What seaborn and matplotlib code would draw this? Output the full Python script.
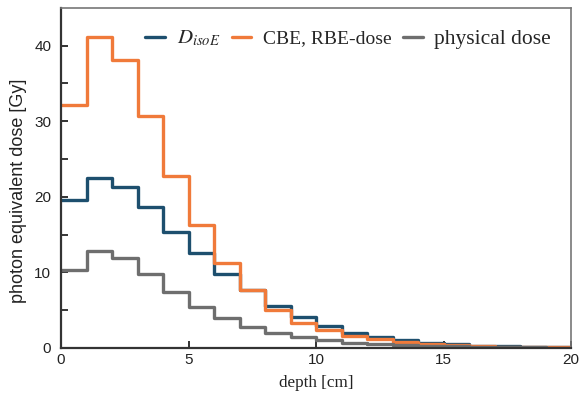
import numpy as np
import pandas as pd
import seaborn as sns
import matplotlib.pyplot as plt
from matplotlib.lines import Line2D

# Bin edges (cm) and dose per 1 cm bin
edges = list(range(0, 21))
dose_isoE = [19.6, 22.5, 21.3, 18.7, 15.4, 12.5, 9.8, 7.6, 5.6, 4.1,
             2.9, 2.0, 1.4, 1.0, 0.6, 0.45, 0.3, 0.2, 0.15, 0.1]
dose_cbe = [32.1, 41.2, 38.1, 30.7, 22.8, 16.2, 11.3, 7.6, 5.0, 3.35,
            2.3, 1.6, 1.15, 0.8, 0.5, 0.35, 0.25, 0.15, 0.1, 0.05]
dose_phys = [10.3, 12.8, 11.9, 9.8, 7.4, 5.4, 4.0, 2.8, 2.0, 1.4,
             1.0, 0.7, 0.5, 0.35, 0.25, 0.18, 0.12, 0.08, 0.05, 0.03]

series = {
    "isoE": dose_isoE,
    "cbe": dose_cbe,
    "phys": dose_phys,
}
colors = {"isoE": "#1d4f6e", "cbe": "#f07a3a", "phys": "#6e6e6e"}

rows = []
for name, vals in series.items():
    ys = vals + [vals[-1]]
    for x, y in zip(edges, ys):
        rows.append({"depth": x, "dose": y, "series": name})
df = pd.DataFrame(rows)

sns.set_style("ticks")
plt.rcParams["mathtext.fontset"] = "stix"
fig = plt.figure(figsize=(5.81, 3.98), dpi=100)
ax = fig.add_axes([0.105, 0.126, 0.878, 0.854])

sns.lineplot(data=df, x="depth", y="dose", hue="series", palette=colors,
             drawstyle="steps-post", linewidth=2.4, legend=False, ax=ax,
             estimator=None)

ax.set_xlim(0, 20)
ax.set_ylim(0, 45)
ax.set_xticks([0, 5, 10, 15, 20])
ax.set_yticks([0, 10, 20, 30, 40])
ax.set_yticks([5, 15, 25, 35], minor=True)
ax.tick_params(axis="both", direction="in", length=5, width=1.3,
               labelsize=11, colors="#222222")
ax.tick_params(axis="y", pad=7)
ax.tick_params(axis="y", which="minor", direction="in", length=5, width=1.3)
for lab in ax.get_xticklabels() + ax.get_yticklabels():
    lab.set_family("Liberation Sans")

for side in ["left", "bottom"]:
    ax.spines[side].set_color("#333333")
    ax.spines[side].set_linewidth(1.6)
for side in ["top", "right"]:
    ax.spines[side].set_color("#777777")
    ax.spines[side].set_linewidth(1.2)

ax.set_ylabel("photon equivalent dose [Gy]", family="Liberation Sans",
              fontsize=13, color="#222222")
ax.yaxis.set_label_coords(-0.067, 0.462)
ax.set_xlabel("depth [cm]", family="Liberation Serif", fontsize=12.3,
              color="#222222", labelpad=6)

handles = [Line2D([], [], color=colors[k], linewidth=2.4) for k in series]
labels = [r"$D_{isoE}$", "CBE, RBE-dose", "physical dose"]
leg = ax.legend(handles, labels, loc="upper right", ncol=3, frameon=False,
                handlelength=1.0, handletextpad=0.6, columnspacing=0.6,
                bbox_to_anchor=(0.995, 0.99),
                prop={"family": "Liberation Serif", "size": 14})
texts = leg.get_texts()
texts[0].set_fontsize(15)
texts[2].set_fontsize(15.5)

fig.savefig("out.png", dpi=100)
